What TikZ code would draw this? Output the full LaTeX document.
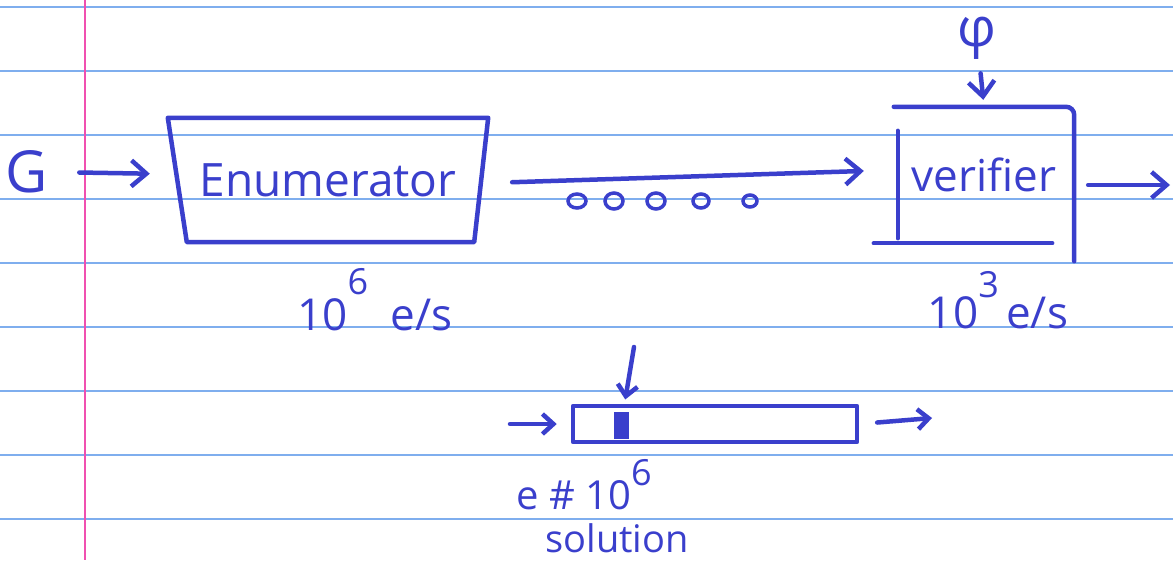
\documentclass[tikz,border=0pt]{standalone}
\usepackage{fontspec}
\setmainfont{Open Sans}
\usepackage{tikz}
\usetikzlibrary{arrows.meta,positioning}
\definecolor{ink}{HTML}{3A3FCC}
\definecolor{rule}{HTML}{7FAEEE}
\definecolor{margin}{HTML}{F050B0}
\newcommand{\rateexp}[2][0.62em]{\raisebox{#1}{\fontsize{36}{36}\selectfont #2}}

\begin{document}
\begin{tikzpicture}[
  x=1pt, y=-1pt,
  pen/.style={draw=ink, line width=4.5pt, line cap=round, line join=round},
  arr/.style={pen, -{Straight Barb[length=15pt, width=26pt]}},
  sarr/.style={pen, -{Straight Barb[length=11pt, width=20pt]}},
  lbl/.style={text=ink, inner sep=0pt},
  paper/.style={draw=rule, line width=1.8pt}
]
  \useasboundingbox (0,0) rectangle (1173,560);
  \fill[white] (0,0) rectangle (1173,560);
  \foreach \y in {7,71,...,519}
    \draw[paper] (0,\y) -- (1173,\y);
  \draw[margin, line width=1.8pt] (85,0) -- (85,560);

  \node[lbl, font=\fontsize{58}{60}\selectfont] (g) at (27,172) {G};
  \node[lbl, font=\fontsize{46}{50}\selectfont, minimum width=320pt, minimum height=124pt] (enum) at (328,180) {Enumerator};
  \node[lbl, font=\fontsize{44}{48}\selectfont, minimum width=180pt, minimum height=136pt] (ver) at (984,175) {verifier};
  \node[lbl, font=\fontsize{54}{56}\selectfont] (phi) at (977,38) {φ};
  \node[lbl, font=\fontsize{44}{48}\selectfont] (erate) at (375,300) {10\rateexp[0.82em]{6}\ \ e/s};
  \node[lbl, font=\fontsize{44}{48}\selectfont] (vrate) at (998,300) {10\rateexp[0.7em]{3}\,e/s};
  \node[pen, minimum width=284pt, minimum height=36pt, inner sep=0pt] (buf) at (715,424) {};
  \node[fill=ink, minimum width=15pt, minimum height=27pt, inner sep=0pt] (slot) at (621,425) {};
  \node[lbl, font=\fontsize{40}{44}\selectfont] (count) at (584,485) {e \# 10\rateexp[0.6em]{6}};
  \node[lbl, font=\fontsize{38}{42}\selectfont] (sol) at (617,538) {solution};

  \coordinate (vout) at (1170,185);
  \coordinate (probe) at (634,347);
  \coordinate (bin) at (510,424);
  \coordinate (bout) at (932,418);

  \draw[pen] (enum.north west) -- (enum.north east) -- ([xshift=-14pt]enum.south east) -- ([xshift=19pt]enum.south west) -- cycle;
  \draw[pen, rounded corners=8pt] (ver.north west) -- (ver.north east) -- ([yshift=-18pt]ver.south east);
  \draw[pen] ([xshift=4pt, yshift=-24pt]ver.north west) -- ([xshift=4pt, yshift=5pt]ver.south west);
  \draw[pen] ([xshift=-20pt]ver.south west) -- ([xshift=-22pt]ver.south east);

  \draw[arr, shorten <=31pt, shorten >=18pt] (g.east) -- ([yshift=6pt]enum.west);
  \draw[arr, shorten <=24pt, shorten >=30pt] ([yshift=-3pt]enum.east) -- ([yshift=5pt]ver.west);
  \foreach \x/\rx/\ry in {577/9/7, 614/9/8, 656/9/8, 701/8/7, 750/7/6}
    \draw[ink, line width=3.5pt] (\x,201) ellipse [x radius=\rx, y radius=\ry];
  \draw[arr, shorten <=14pt] ([yshift=-10pt]ver.east) -- (vout);
  \draw[arr, shorten <=14pt, shorten >=7pt] (phi) -- (ver.north);

  \draw[sarr, shorten >=14pt] (bin) -- (buf.west);
  \draw[sarr, shorten <=18pt] (buf.east) -- (bout);
  \draw[sarr, shorten >=12pt] (probe) -- (slot);
\end{tikzpicture}
\end{document}
